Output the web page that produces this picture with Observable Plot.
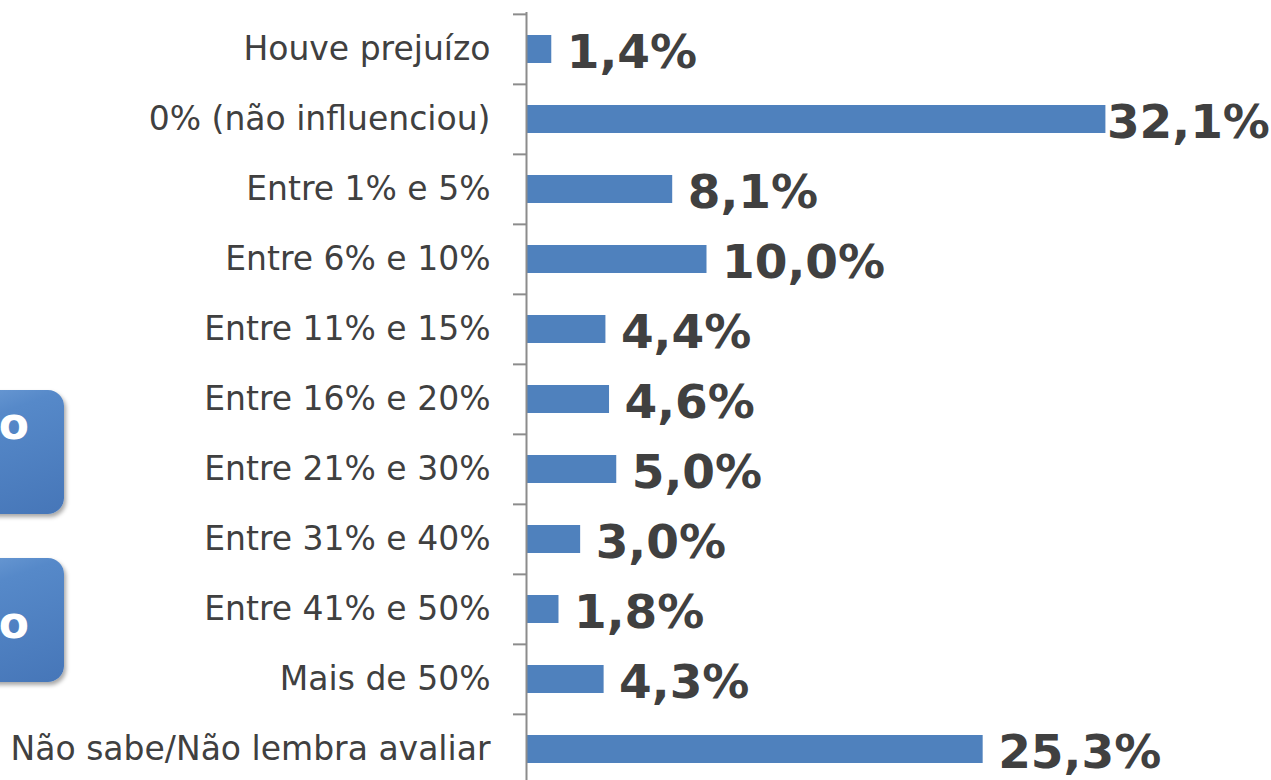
<!DOCTYPE html>
<html>
<head>
<meta charset="utf-8">
<script src="https://cdn.jsdelivr.net/npm/d3@7"></script>
<script src="https://cdn.jsdelivr.net/npm/@observablehq/plot@0.6"></script>
<style>
  html, body { margin: 0; padding: 0; background: #fff; overflow: hidden; }
  #wrap { position: relative; width: 1271px; height: 780px; overflow: hidden; }
  #chart { position: absolute; left: 0; top: 0; }
  .box {
    position: absolute; left: -120px; width: 184px; height: 124px;
    border-radius: 16px;
    background: linear-gradient(160deg, #7fabdf 0%, #5689c9 35%, #4676b8 100%);
    box-shadow: 2px 3px 4px rgba(0,0,0,0.35);
    color: #fff; font-family: "DejaVu Sans", sans-serif; font-weight: bold; font-size: 44px;
  }
  .box span { position: absolute; right: 35px; line-height: 1; }
</style>
</head>
<body>
<div id="wrap">
  <div class="box" style="top:390px"><span style="top:12px">o</span></div>
  <div class="box" style="top:558px"><span style="top:43px">o</span></div>
  <div id="chart"></div>
</div>
<script>
const categories = [
  "Houve prejuízo",
  "0% (não influenciou)",
  "Entre 1% e 5%",
  "Entre 6% e 10%",
  "Entre 11% e 15%",
  "Entre 16% e 20%",
  "Entre 21% e 30%",
  "Entre 31% e 40%",
  "Entre 41% e 50%",
  "Mais de 50%",
  "Não sabe/Não lembra avaliar"
];
const values = [1.4, 32.1, 8.1, 10.0, 4.4, 4.6, 5.0, 3.0, 1.8, 4.3, 25.3];

const data = categories.map((c, i) => ({category: c, value: values[i]}));
const fmt = v => v.toFixed(1).replace(".", ",") + "%";
const maxV = d3.max(values);

const W = 1271, H = 800, mTop = 12, mBottom = 15;
const step = (H - mTop - mBottom) / categories.length;

const chart = Plot.plot({
  width: W,
  height: H,
  marginLeft: 526,
  marginRight: 23,
  marginTop: mTop,
  marginBottom: mBottom,
  style: {fontFamily: "DejaVu Sans, sans-serif", color: "#404040", background: "transparent", overflow: "visible"},
  x: {domain: [0, 40], axis: null},
  y: {domain: categories, paddingInner: 0.6, paddingOuter: 0.3, label: null},
  marks: [
    Plot.barX(data, {x: "value", y: "category", fill: "#4F81BD"}),
    Plot.axisY({tickSize: 0, tickPadding: 36, fontSize: 33, fill: "#404040", label: null}),
    Plot.axisY({text: null, tickSize: 13, dy: -step / 2, stroke: "#8c8c8c", strokeWidth: 2}),
    Plot.ruleX([0], {stroke: "#8c8c8c", strokeWidth: 2}),
    Plot.text(data.filter(d => d.value !== maxV), {
      x: "value", y: "category", text: d => fmt(d.value),
      textAnchor: "start", dx: 15, dy: 3, fontSize: 47, fontWeight: "bold", fill: "#404040"
    }),
    Plot.text(data.filter(d => d.value === maxV), {
      x: "value", y: "category", text: d => fmt(d.value),
      textAnchor: "start", dx: 1, dy: 3, fontSize: 47, fontWeight: "bold", fill: "#404040"
    })
  ]
});
document.getElementById("chart").appendChild(chart);
</script>
</body>
</html>
